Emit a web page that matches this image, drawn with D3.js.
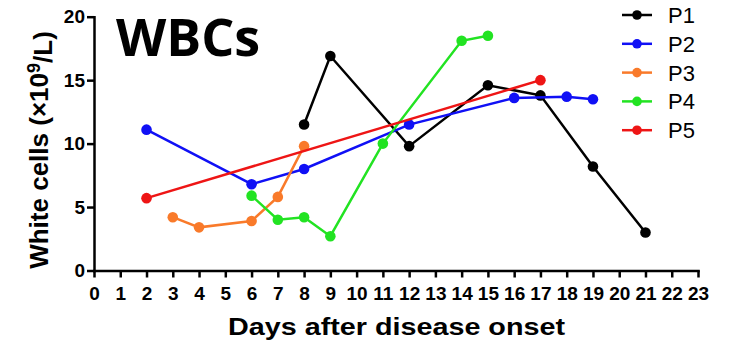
<!DOCTYPE html>
<html>
<head>
<meta charset="utf-8">
<script src="https://cdn.jsdelivr.net/npm/d3@7"></script>
<style>
  body { margin: 0; background: #fff; }
  svg { display: block; }
  .axis path, .axis line { stroke: #000; stroke-width: 2.5px; }
  .axis text { font-family: "Liberation Sans", Arial, sans-serif; font-weight: bold; font-size: 19px; fill: #000; }
</style>
</head>
<body>
<div id="chart"></div>
<script>
// data
const seriesNames = ["P1", "P2", "P3", "P4", "P5"];
const seriesColors = ["#000000", "#1010f5", "#f97a2a", "#22e322", "#ee1515"];

const p1Days = [8, 9, 12, 15, 17, 19, 21];
const p1Values = [11.5, 16.9, 9.8, 14.6, 13.8, 8.2, 3.0];
const p2Days = [2, 6, 8, 12, 16, 18, 19];
const p2Values = [11.1, 6.8, 8.0, 11.5, 13.6, 13.7, 13.5];
const p3Days = [3, 4, 6, 7, 8];
const p3Values = [4.2, 3.4, 3.9, 5.8, 9.8];
const p4Days = [6, 7, 8, 9, 11, 14, 15];
const p4Values = [5.9, 4.0, 4.2, 2.7, 10.0, 18.1, 18.5];
const p5Days = [2, 17];
const p5Values = [5.7, 15.0];

const xTicks = d3.range(0, 24);
const yTicks = [0, 5, 10, 15, 20];

const series = [
    {name: seriesNames[0], color: seriesColors[0], days: p1Days, values: p1Values},
    {name: seriesNames[1], color: seriesColors[1], days: p2Days, values: p2Values},
    {name: seriesNames[2], color: seriesColors[2], days: p3Days, values: p3Values},
    {name: seriesNames[3], color: seriesColors[3], days: p4Days, values: p4Values},
    {name: seriesNames[4], color: seriesColors[4], days: p5Days, values: p5Values}
].map(s => ({...s, points: s.days.map((d, i) => ({day: d, value: s.values[i]}))}));

const width = 731, height = 346;

const svg = d3.select("#chart").append("svg")
    .attr("width", width)
    .attr("height", height);

// scales
const x = d3.scaleLinear().domain([0, 23]).range([94, 698]);
const y = d3.scaleLinear().domain([0, 20]).range([270.5, 16.7]);

// axes
svg.append("g")
    .attr("class", "axis")
    .attr("transform", `translate(0, ${y(0)})`)
    .call(d3.axisBottom(x).tickValues(xTicks).tickSize(7).tickPadding(9).tickSizeOuter(0));

svg.append("g")
    .attr("class", "axis")
    .attr("transform", `translate(${x(0)}, 0)`)
    .call(d3.axisLeft(y).tickValues(yTicks).tickSize(7).tickPadding(2).tickSizeOuter(0));

svg.selectAll(".axis .domain").attr("stroke-linecap", "square");

// axis titles
svg.append("text")
    .attr("x", 228)
    .attr("y", 335)
    .attr("textLength", 337)
    .attr("lengthAdjust", "spacingAndGlyphs")
    .style("font-family", "Liberation Sans, Arial, sans-serif")
    .style("font-weight", "bold")
    .style("font-size", "24px")
    .text("Days after disease onset");

let yTitle = svg.append("text")
    .attr("transform", "translate(48, 150) rotate(-90)")
    .attr("text-anchor", "middle")
    .style("font-family", "Liberation Sans, Arial, sans-serif")
    .style("font-weight", "bold")
    .style("font-size", "26px");
yTitle.append("tspan").text("White cells (\u00d710");
yTitle.append("tspan").attr("dy", "-0.45em").style("font-size", "18px").text("9");
yTitle.append("tspan").attr("dy", "0.45em").text("/L)");

// panel title
svg.append("text")
    .attr("x", 116)
    .attr("y", 56)
    .style("font-family", "Open Sans, sans-serif")
    .style("font-weight", "bold")
    .style("font-size", "52px")
    .text("WBCs");

// lines and points
const line = d3.line().x(d => x(d.day)).y(d => y(d.value));

series.forEach(s => {
    let g = svg.append("g").attr("class", "series");
    g.append("path")
        .datum(s.points)
        .attr("d", line)
        .attr("fill", "none")
        .attr("stroke", s.color)
        .attr("stroke-width", 2.5);
    g.selectAll("circle")
        .data(s.points)
        .enter().append("circle")
        .attr("cx", d => x(d.day))
        .attr("cy", d => y(d.value))
        .attr("r", 5.3)
        .attr("fill", s.color);
});

// legend
const legend = svg.append("g")
    .attr("transform", "translate(622, 15)");

const rows = legend.selectAll("g")
    .data(series)
    .enter().append("g")
    .attr("transform", (d, i) => `translate(0, ${i * 28.8})`);

rows.append("line")
    .attr("x1", 0).attr("x2", 30)
    .attr("stroke", d => d.color)
    .attr("stroke-width", 2.5);
rows.append("circle")
    .attr("cx", 15)
    .attr("r", 4.8)
    .attr("fill", d => d.color);
rows.append("text")
    .attr("x", 46)
    .attr("y", 8)
    .style("font-family", "Liberation Sans, Arial, sans-serif")
    .style("font-size", "22px")
    .text(d => d.name);
</script>
</body>
</html>
